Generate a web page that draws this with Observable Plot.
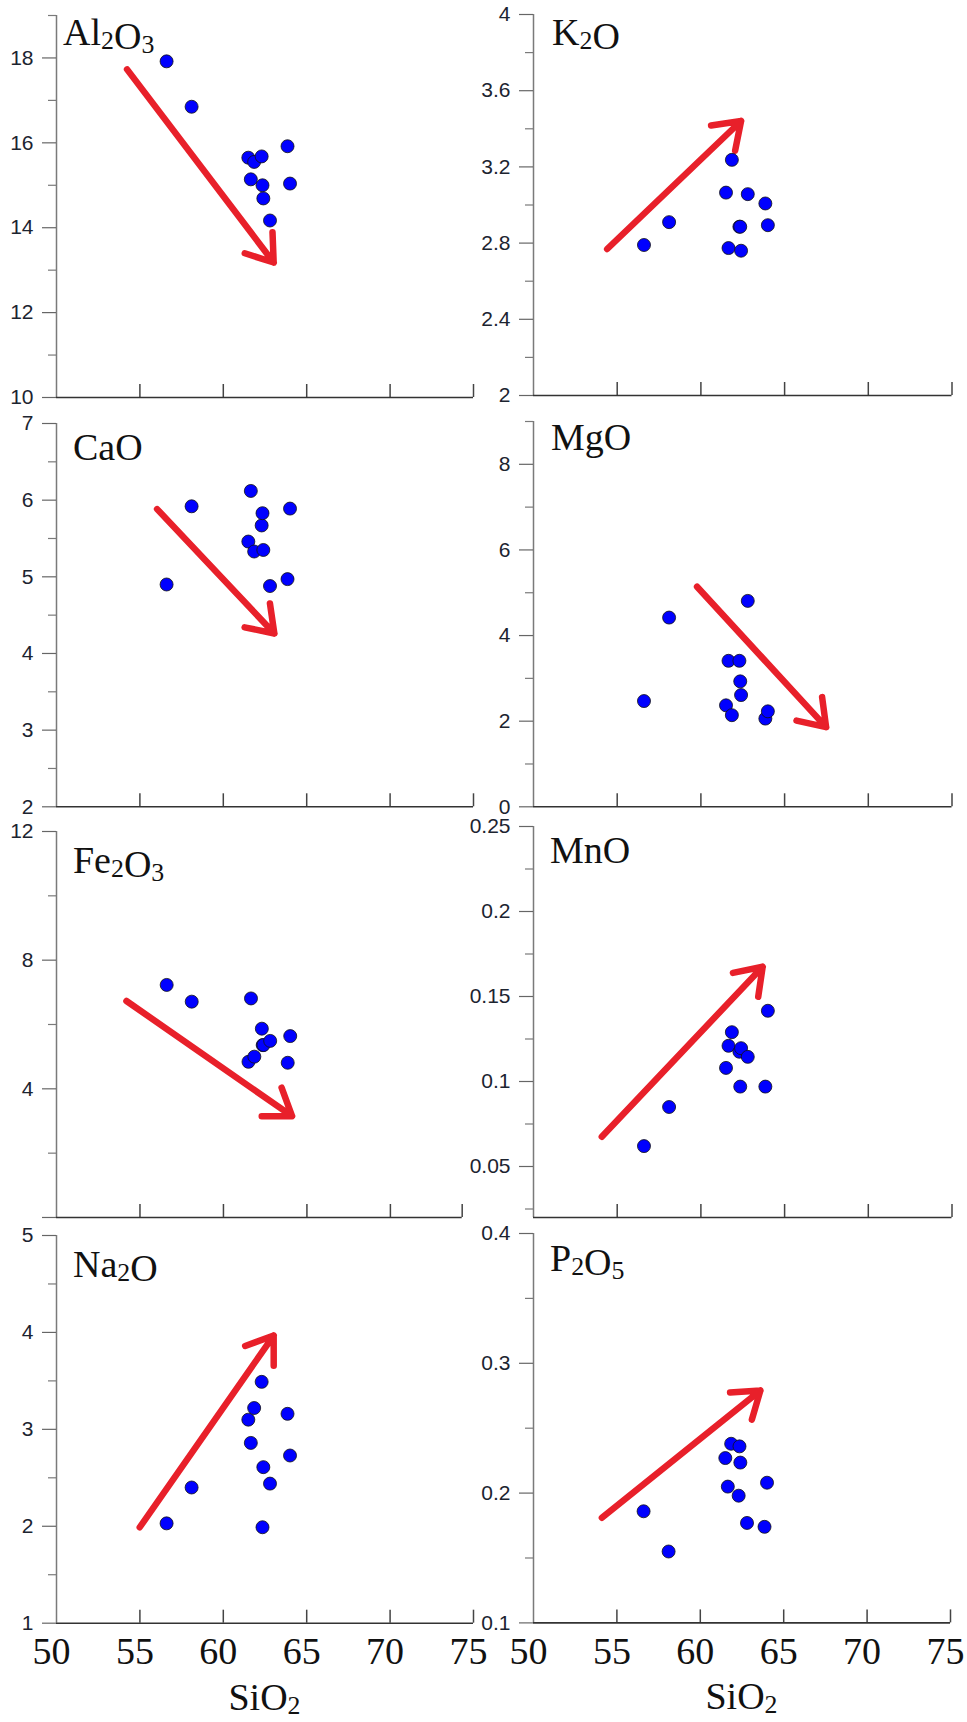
<!DOCTYPE html>
<html><head><meta charset="utf-8">
<script src="https://cdn.jsdelivr.net/npm/d3@7"></script>
<script src="https://cdn.jsdelivr.net/npm/@observablehq/plot@0.6"></script>
<style>
body{margin:0;background:#fff;}
#root{position:relative;width:967px;height:1722px;overflow:hidden;background:#fff;}
#root svg{position:absolute;}
</style></head><body><div id="root"></div>
<script>
// ---- data ----
const sio2  = [56.6, 58.1, 61.5, 61.65, 61.85, 62.3, 62.35, 62.4, 62.8, 63.85, 64.0];
const al2o3 = [17.92, 16.85, 15.65, 15.14, 15.55, 15.68, 15.0, 14.69, 14.17, 15.92, 15.04];
const k2o   = [2.79, 2.91, 3.065, 2.774, 3.237, 2.886, 2.886, 2.76, 3.057, 3.008, 2.894];
const cao   = [4.90, 5.92, 5.46, 6.12, 5.33, 5.67, 5.83, 5.35, 4.88, 4.97, 5.89];
const mgo   = [2.47, 4.42, 2.37, 3.41, 2.14, 3.41, 2.93, 2.61, 4.81, 2.06, 2.23];
const fe2o3 = [7.23, 6.71, 4.84, 6.81, 5.00, 5.87, 5.36, 5.36, 5.49, 4.81, 5.64];
const mno   = [0.062, 0.085, 0.108, 0.121, 0.129, 0.1175, 0.097, 0.1196, 0.1145, 0.097, 0.1416];
const na2o  = [2.03, 2.40, 3.10, 2.86, 3.22, 3.49, 1.99, 2.61, 2.44, 3.16, 2.73];
const p2o5  = [0.186, 0.155, 0.227, 0.205, 0.238, 0.198, 0.236, 0.2235, 0.177, 0.174, 0.208];

const oxideNames = ["Al_2O_3", "K_2O", "CaO", "MgO", "Fe_2O_3", "MnO", "Na_2O", "P_2O_5"];
const oxideValues = [al2o3, k2o, cao, mgo, fe2o3, mno, na2o, p2o5];
const yDomains = [[10, 19], [2, 4], [2, 7], [0, 9], [0, 12], [0.02, 0.25], [1, 5], [0.1, 0.4]];
const yMajor = [
  [10, 12, 14, 16, 18], [2, 2.4, 2.8, 3.2, 3.6, 4], [2, 3, 4, 5, 6, 7], [0, 2, 4, 6, 8],
  [0, 4, 8, 12], [0.05, 0.1, 0.15, 0.2, 0.25], [1, 2, 3, 4, 5], [0.1, 0.2, 0.3, 0.4]
];
const yMajorLabels = [
  ["10", "12", "14", "16", "18"], ["2", "2.4", "2.8", "3.2", "3.6", "4"], ["2", "3", "4", "5", "6", "7"],
  ["0", "2", "4", "6", "8"], ["", "4", "8", "12"], ["0.05", "0.1", "0.15", "0.2", "0.25"],
  ["1", "2", "3", "4", "5"], ["0.1", "0.2", "0.3", "0.4"]
];
const yMinor = [
  [11, 13, 15, 17, 19], [2.2, 2.6, 3.0, 3.4, 3.8], [2.5, 3.5, 4.5, 5.5, 6.5], [1, 3, 5, 7, 9],
  [2, 6, 10], [0.025, 0.075, 0.125, 0.175, 0.225], [1.5, 2.5, 3.5, 4.5], [0.15, 0.25, 0.35]
];
const xDomains = [[50, 75], [50, 75], [50, 75], [50, 75], [50, 74.3], [50, 75], [50, 75], [50, 75]];
const xTickValues = [50, 55, 60, 65, 70, 75];
const xTickLabels = ["50", "55", "60", "65", "70", "75"];
const xTitle = "SiO_2";
// trend arrows (start -> end), data coordinates
const arrowX1 = [54.23, 54.4, 56.03, 59.77, 54.19, 54.08, 54.99, 54.1];
const arrowY1 = [17.73, 2.769, 5.883, 5.14, 6.73, 0.0675, 1.99, 0.181];
const arrowX2 = [63.02, 62.4, 63.06, 67.48, 64.11, 63.69, 63.02, 63.6];
const arrowY2 = [13.18, 3.441, 4.261, 1.86, 3.15, 0.1675, 3.968, 0.279];

// ---- layout (frame position in page pixels) ----
const layout = [
  {left: 56, top: 15, w: 417, h: 382, tdx: 7, tdy: 30},
  {left: 532.5, top: 14, w: 418.5, h: 381, tdx: 19, tdy: 31},
  {left: 56, top: 422.7, w: 417, h: 383.3, tdx: 17, tdy: 37},
  {left: 532.5, top: 420.7, w: 418.5, h: 385.3, tdx: 18, tdy: 29},
  {left: 56, top: 830.7, w: 405.7, h: 386, tdx: 17, tdy: 42},
  {left: 532.5, top: 825.7, w: 418.5, h: 391, tdx: 17, tdy: 37},
  {left: 56, top: 1235, w: 417, h: 387.7, tdx: 17, tdy: 42},
  {left: 533.3, top: 1233.3, w: 417, h: 389.4, tdx: 17, tdy: 38}
];
const SERIF = "Liberation Serif, Times New Roman, serif";
const SANS = "Liberation Sans, Arial, sans-serif";

function addRichText(sel, str) {
  const parts = str.split(/(_\d)/).filter(s => s.length);
  for (const p of parts) {
    if (p[0] === "_") {
      sel.append("tspan").attr("font-size", "0.68em").attr("dy", 4).text(p.slice(1));
      sel.append("tspan").attr("dy", -4).text("");
    } else sel.append("tspan").text(p);
  }
}

const root = document.getElementById("root");
oxideNames.forEach((name, i) => {
  const L = layout[i];
  const bottom = i >= 6;
  const mL = 56, mT = 14, mR = 4, mB = bottom ? 100 : 10;
  const yDom = yDomains[i], xDom = xDomains[i];
  const labelMap = new Map(yMajor[i].map((v, j) => [v, yMajorLabels[i][j]]));
  const frameTicks = xTickValues.filter(v => v > xDom[0] && v < xDom[1]).concat([xDom[1]]);
  const pts = sio2.map((x, k) => ({x, y: oxideValues[i][k]}));
  const marks = [
    Plot.ruleX([xDom[0]], {stroke: "#7a7a7a", strokeWidth: 1.5}),
    Plot.axisY({ticks: yMinor[i], tickSize: 8, tickFormat: () => "", stroke: "#7a7a7a", strokeWidth: 1.2, label: null}),
    Plot.axisY({ticks: yMajor[i], tickSize: 14, tickPadding: 9, tickFormat: d => labelMap.get(d),
      fontSize: 21, fontFamily: SANS, fill: "#1c2430", stroke: "#666", strokeWidth: 1.2, label: null}),
    Plot.ruleX(frameTicks, {x: d => d, y1: yDom[0], y2: yDom[0], insetTop: -13, stroke: "#444", strokeWidth: 1.5}),
    Plot.ruleY([yDom[0]], {stroke: "#333", strokeWidth: 1.6}),
    Plot.arrow([i], {x1: j => arrowX1[j], y1: j => arrowY1[j], x2: j => arrowX2[j], y2: j => arrowY2[j],
      stroke: "#e8202a", strokeWidth: 6.5, headLength: 7, headAngle: 70, strokeLinecap: "round", strokeLinejoin: "round"}),
    Plot.dot(pts, {x: "x", y: "y", r: 6.5, fill: "#0000ff", stroke: "#111", strokeWidth: 0.8})
  ];
  if (bottom) {
    marks.push(Plot.axisX({ticks: xTickValues, tickSize: 0, tickPadding: 14, dx: -5,
      tickFormat: d => xTickLabels[xTickValues.indexOf(d)], fontSize: 38, fontFamily: SERIF, fill: "#111", label: null}));
  }
  const svg = Plot.plot({
    width: mL + L.w + mR, height: mT + L.h + mB,
    marginLeft: mL, marginTop: mT, marginRight: mR, marginBottom: mB,
    x: bottom ? {domain: xDom} : {domain: xDom, axis: null},
    y: {domain: yDom},
    style: {background: "transparent", overflow: "visible"},
    marks
  });
  svg.style.left = (L.left - mL) + "px";
  svg.style.top = (L.top - mT) + "px";
  const s = d3.select(svg);
  const t = s.append("text").attr("x", mL + L.tdx).attr("y", mT + L.tdy).attr("text-anchor", "start")
    .attr("font-family", SERIF).attr("font-size", 38).attr("fill", "#111");
  addRichText(t, name);
  if (bottom) {
    const xt = s.append("text").attr("x", mL + L.w / 2).attr("y", mT + L.h + 87)
      .attr("text-anchor", "middle").attr("font-family", SERIF).attr("font-size", 38).attr("fill", "#111");
    addRichText(xt, xTitle);
  }
  root.appendChild(svg);
});
</script></body></html>
